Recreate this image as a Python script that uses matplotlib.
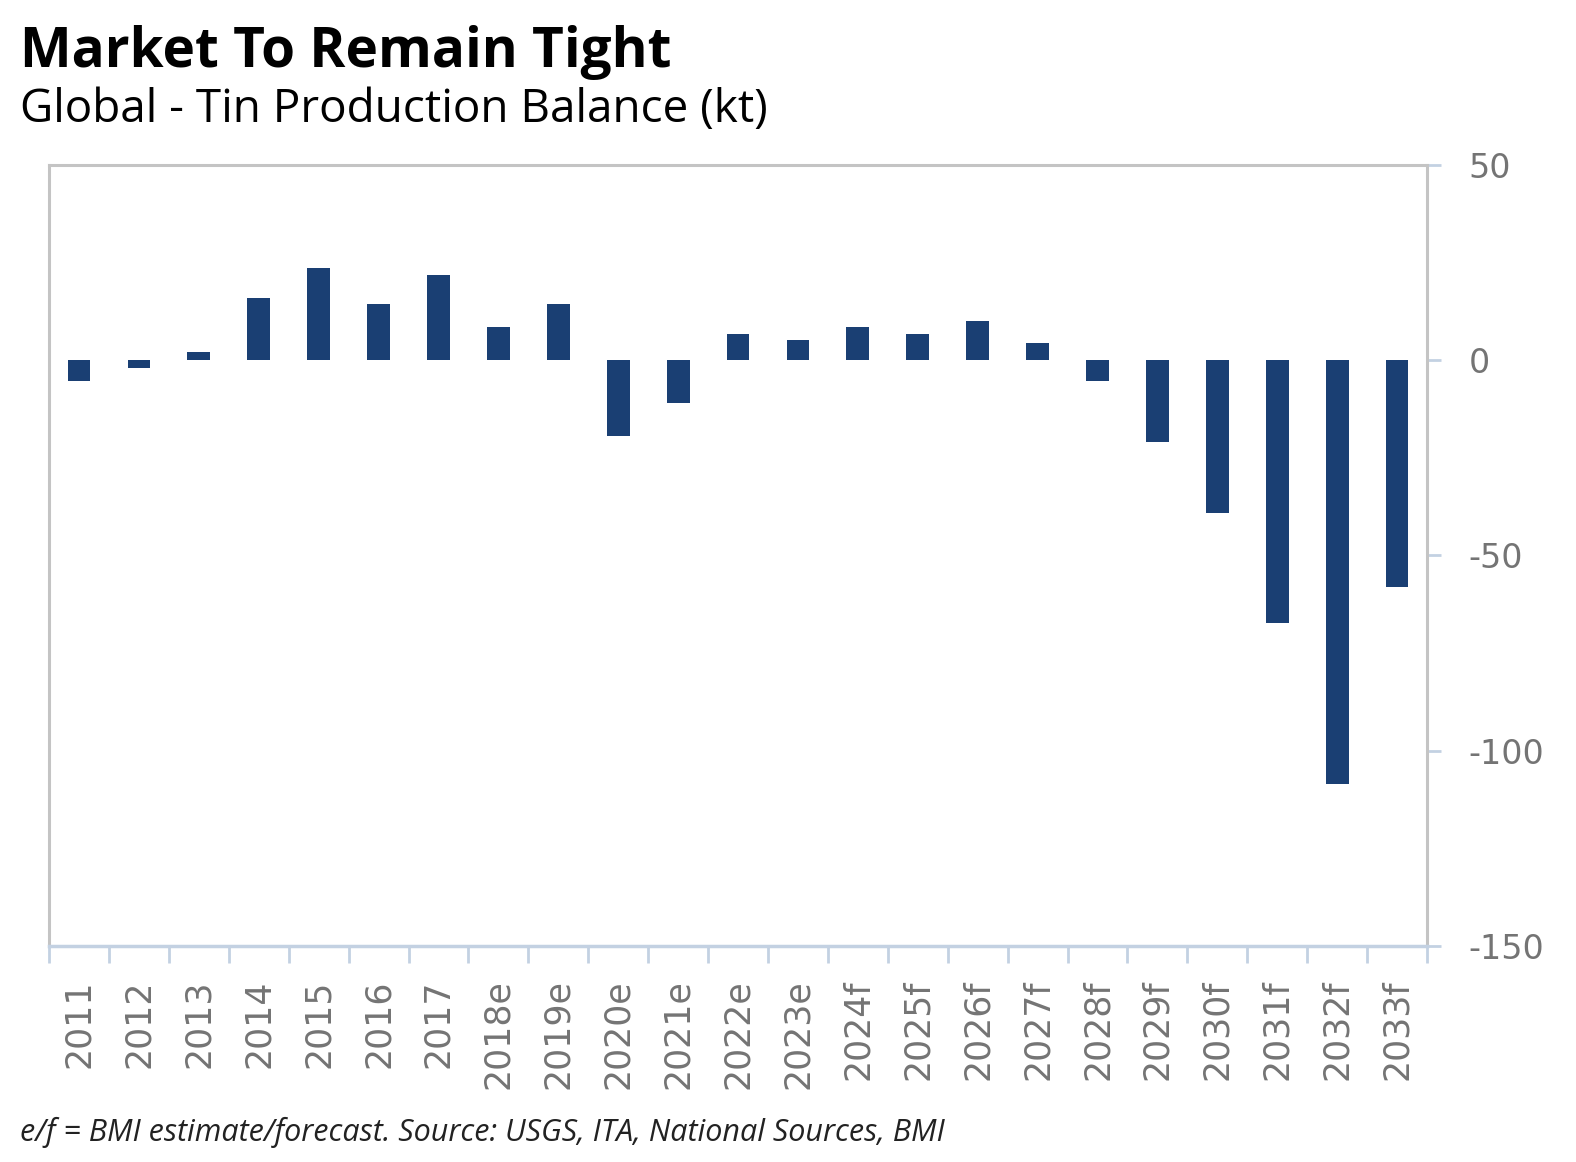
import numpy as np
import matplotlib
matplotlib.use("Agg")
import matplotlib.pyplot as plt
from matplotlib.ticker import FixedLocator, NullFormatter

years = ["2011", "2012", "2013", "2014", "2015", "2016", "2017",
         "2018e", "2019e", "2020e", "2021e", "2022e", "2023e",
         "2024f", "2025f", "2026f", "2027f", "2028f", "2029f",
         "2030f", "2031f", "2032f", "2033f"]
balance = [-5.4, -2.0, 2.0, 16.0, 23.5, 14.4, 21.9,
           8.6, 14.4, -19.3, -11.0, 6.8, 5.1,
           8.4, 6.8, 10.0, 4.3, -5.2, -21.0,
           -39.2, -67.2, -108.5, -58.1]
yticks = [50, 0, -50, -100, -150]

bar_color = "#1a3f73"
spine_grey = "#c4c4c4"
axis_blue = "#c3d1e2"
label_grey = "#747474"

fig = plt.figure(figsize=(15.76, 11.62), dpi=100)
ax = fig.add_axes([0.0311, 0.1859, 0.8744, 0.6721])

x = np.arange(len(years))
ax.bar(x, balance, width=0.38, color=bar_color, edgecolor="none")

ax.set_xlim(-0.5, len(years) - 0.5)
ax.set_ylim(-150, 50)

# y axis on the right
ax.yaxis.tick_right()
ax.set_yticks(yticks)
ax.set_yticklabels([str(v) for v in yticks])
ax.tick_params(axis="y", which="major", length=10, width=2, color=axis_blue,
               labelsize=24, labelcolor=label_grey, pad=20)

# x axis: ticks at category boundaries, labels at centres
ax.xaxis.set_major_locator(FixedLocator(x))
ax.set_xticklabels(years, rotation=90, fontfamily="DejaVu Sans")
ax.xaxis.set_minor_locator(FixedLocator(np.arange(len(years) + 1) - 0.5))
ax.xaxis.set_minor_formatter(NullFormatter())
ax.tick_params(axis="x", which="major", length=0, labelsize=25,
               labelcolor=label_grey, pad=24)
ax.tick_params(axis="x", which="minor", length=12, width=2, color=axis_blue)

for side in ["left", "top", "right"]:
    ax.spines[side].set_color(spine_grey)
    ax.spines[side].set_linewidth(2.2)
ax.spines["bottom"].set_color(axis_blue)
ax.spines["bottom"].set_linewidth(2.5)

fig.text(0.0127, 0.942, "Market To Remain Tight", fontsize=39.5,
         fontweight="bold", fontfamily="Open Sans", va="baseline", ha="left")
fig.text(0.0127, 0.895, "Global - Tin Production Balance (kt)", fontsize=33,
         fontfamily="Open Sans", va="baseline", ha="left")
fig.text(0.0127, 0.018, "e/f = BMI estimate/forecast. Source: USGS, ITA, National Sources, BMI",
         fontsize=22, fontstyle="italic", fontfamily="Open Sans",
         color="#222222", va="baseline", ha="left")

fig.savefig("out.png", dpi=100, facecolor="white")
